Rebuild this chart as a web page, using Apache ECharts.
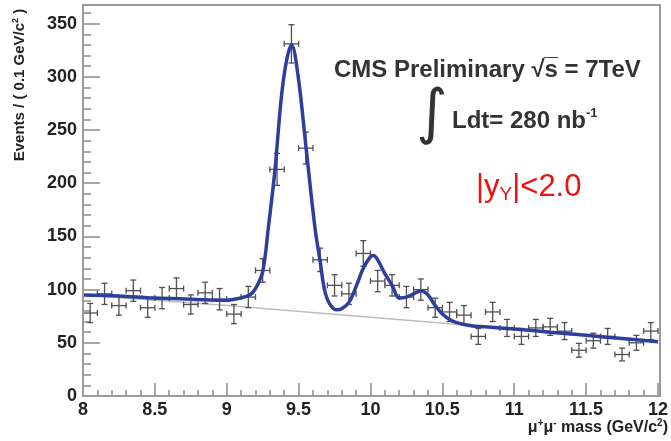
<!DOCTYPE html>
<html>
<head>
<meta charset="utf-8">
<script src="https://cdn.jsdelivr.net/npm/echarts@6/dist/echarts.min.js"></script>
<style>
html, body { margin: 0; padding: 0; background: #fff; }
#chart { width: 671px; height: 441px; }
</style>
</head>
<body>
<div id="chart"></div>
<script>
// dimuon mass bins (GeV/c^2), events per 0.1 GeV bin and errors
const massBins = [8.05, 8.15, 8.25, 8.35, 8.45, 8.55, 8.65, 8.75, 8.85, 8.95,
  9.05, 9.15, 9.25, 9.35, 9.45, 9.55, 9.65, 9.75, 9.85, 9.95,
  10.05, 10.15, 10.25, 10.35, 10.45, 10.55, 10.65, 10.75, 10.85, 10.95,
  11.05, 11.15, 11.25, 11.35, 11.45, 11.55, 11.65, 11.75, 11.85, 11.95];
const counts = [78, 96, 85, 99, 83, 92, 101, 86, 97, 91,
  77, 93, 118, 213, 331, 233, 128, 104, 96, 134,
  108, 104, 93, 100, 83, 79, 76, 56, 79, 64,
  56, 64, 65, 61, 43, 52, 56, 39, 50, 61];
const countErr = [9, 10, 9, 10, 9, 10, 10, 9, 10, 10,
  9, 10, 11, 15, 18, 15, 11, 10, 10, 12,
  10, 10, 10, 10, 9, 9, 9, 7.5, 9, 8,
  7.5, 8, 8, 8, 6.5, 7, 7.5, 6, 7, 8];

// fit (signal + background)
const fitMass = [8.0, 8.25, 8.5, 8.75, 9.0, 9.09, 9.16, 9.2, 9.25, 9.29,
  9.335, 9.38, 9.417, 9.451, 9.497, 9.556, 9.613, 9.648, 9.694, 9.764,
  9.8, 9.85, 9.9, 9.95, 10.0, 10.02, 10.05, 10.1, 10.15, 10.2,
  10.25, 10.3, 10.35, 10.4, 10.45, 10.5, 10.55, 10.6, 10.7, 10.8,
  11.0, 11.25, 11.5, 11.75, 12.0];
const fitCount = [95, 94, 92, 91, 90, 92, 95, 101, 117, 159,
  212, 281, 316, 330, 300, 228, 159, 128, 93, 81,
  82, 88, 103, 120, 131, 132, 128, 115, 104, 92,
  93, 96, 99, 95, 85, 77, 72, 69, 66, 65,
  63, 60, 57, 54, 51];

// background only
const bgMass = [8, 9, 10, 11, 12];
const bgCount = [95, 85, 74, 63, 52];

const yMajorTicks = [0, 50, 100, 150, 200, 250, 300, 350];
const yMinorTicks = [10, 20, 30, 40, 60, 70, 80, 90, 110, 120, 130, 140, 160, 170, 180, 190,
  210, 220, 230, 240, 260, 270, 280, 290, 310, 320, 330, 340, 360];

const FONT = "'Liberation Sans', Arial, sans-serif";

let chart = echarts.init(document.getElementById('chart'));

let option = {
  animation: false,
  grid: { left: 83, right: 11, top: 13, bottom: 45 },
  xAxis: {
    type: 'value',
    min: 8, max: 12, interval: 0.5,
    axisLine: { lineStyle: { color: '#9a9a9a', width: 2 } },
    axisTick: { inside: true, length: 13, lineStyle: { color: '#8a8a8a', width: 1.5 } },
    minorTick: { show: true, splitNumber: 5, length: 6, lineStyle: { color: '#8a8a8a', width: 1.5 } },
    axisLabel: { color: '#222', fontSize: 18, fontWeight: 'bold', fontFamily: FONT, margin: 5 },
    splitLine: { show: false }
  },
  yAxis: [{
    type: 'value',
    min: 0, max: 360,
    axisLine: { show: true, lineStyle: { color: '#9a9a9a', width: 2 } },
    axisTick: { inside: true, length: 17, customValues: yMajorTicks, lineStyle: { color: '#8a8a8a', width: 1.5 } },
    axisLabel: { customValues: yMajorTicks, color: '#222', fontSize: 18, fontWeight: 'bold', fontFamily: FONT, margin: 6 },
    splitLine: { show: false }
  }, {
    type: 'value',
    min: 0, max: 360,
    position: 'left',
    axisLine: { show: false },
    axisTick: { inside: true, length: 8, customValues: yMinorTicks, lineStyle: { color: '#8a8a8a', width: 1.5 } },
    axisLabel: { show: false },
    splitLine: { show: false }
  }],
  series: [{
    name: 'background',
    type: 'line',
    data: bgMass.map((m, i) => [m, bgCount[i]]),
    showSymbol: false,
    lineStyle: { color: '#bdbdbd', width: 1.5 },
    z: 1
  }, {
    name: 'data',
    type: 'custom',
    data: massBins.map((m, i) => [m, counts[i], countErr[i]]),
    encode: { x: 0, y: 1 },
    renderItem: function (params, api) {
      let m = api.value(0), n = api.value(1), e = api.value(2);
      let l = api.coord([m - 0.05, n]);
      let r = api.coord([m + 0.05, n]);
      let t = api.coord([m, n + e]);
      let b = api.coord([m, n - e]);
      let st = { stroke: '#505050', lineWidth: 1.3 };
      let cap = 3;
      return {
        type: 'group',
        children: [
          { type: 'line', shape: { x1: l[0], y1: l[1], x2: r[0], y2: r[1] }, style: st },
          { type: 'line', shape: { x1: t[0], y1: t[1], x2: b[0], y2: b[1] }, style: st },
          { type: 'line', shape: { x1: t[0] - cap, y1: t[1], x2: t[0] + cap, y2: t[1] }, style: st },
          { type: 'line', shape: { x1: b[0] - cap, y1: b[1], x2: b[0] + cap, y2: b[1] }, style: st },
          { type: 'line', shape: { x1: l[0], y1: l[1] - cap, x2: l[0], y2: l[1] + cap }, style: st },
          { type: 'line', shape: { x1: r[0], y1: r[1] - cap, x2: r[0], y2: r[1] + cap }, style: st }
        ]
      };
    },
    z: 2
  }, {
    name: 'fit',
    type: 'line',
    data: fitMass.map((m, i) => [m, fitCount[i]]),
    smooth: 0.35,
    showSymbol: false,
    lineStyle: { color: '#2c3f9e', width: 3.5 },
    z: 3
  }],
  graphic: [
    // frame
    { type: 'rect', shape: { x: 83, y: 5, width: 577, height: 391 },
      style: { fill: null, stroke: '#9a9a9a', lineWidth: 2 }, z: 10 },
    // axis titles
    { type: 'text', x: 20, y: 85, rotation: Math.PI / 2,
      style: { text: 'Events / ( 0.1 GeV/c{sup|2} )', font: 'bold 15px ' + FONT, fill: '#222',
        align: 'center', verticalAlign: 'middle', lineHeight: 18,
        rich: { sup: { fontSize: 9, fontWeight: 'bold', lineHeight: 9, verticalAlign: 'top', fill: '#222' } } } },
    { type: 'text', x: 668, y: 428,
      style: { text: 'μ{sup|+}μ{sup|-} mass (GeV/c{sup|2})', font: 'bold 16px ' + FONT, fill: '#222',
        align: 'right', verticalAlign: 'middle', lineHeight: 20,
        rich: { sup: { fontSize: 10, fontWeight: 'bold', lineHeight: 10, verticalAlign: 'top', fill: '#222' } } } },
    // labels
    { type: 'text', x: 334, y: 70,
      style: { text: 'CMS Preliminary \u221As\u0305 = 7TeV', font: 'bold 24px ' + FONT, fill: '#333',
        align: 'left', verticalAlign: 'middle' } },
    { type: 'text', x: 432, y: 116,
      style: { text: '\u222B', font: '60px DejaVu Sans', fill: '#333', align: 'center', verticalAlign: 'middle' } },
    { type: 'text', x: 452, y: 121,
      style: { text: 'Ldt= 280 nb{sup|-1}', font: 'bold 24px ' + FONT, fill: '#333',
        align: 'left', verticalAlign: 'middle', lineHeight: 29,
        rich: { sup: { fontSize: 13, fontWeight: 'bold', lineHeight: 13, verticalAlign: 'top', fill: '#333' } } } },
    { type: 'text', x: 476, y: 187,
      style: { text: '|y{sub|Υ}|<2.0', font: '31px ' + FONT, fill: '#ee1111',
        align: 'left', verticalAlign: 'middle', lineHeight: 35,
        rich: { sub: { fontSize: 19, lineHeight: 19, verticalAlign: 'bottom', fill: '#ee1111' } } } }
  ]
};

chart.setOption(option);
</script>
</body>
</html>
